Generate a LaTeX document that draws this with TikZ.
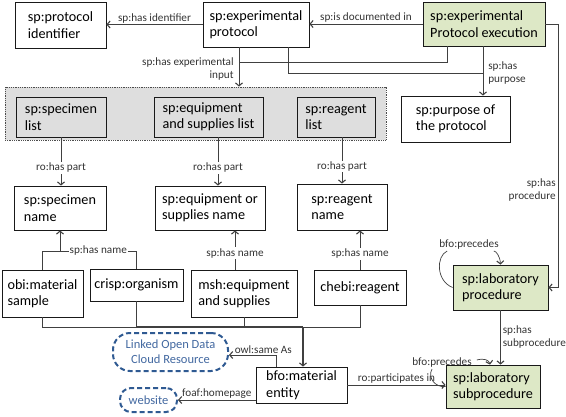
\documentclass[tikz,border=0pt]{standalone}
\usepackage{fontspec}
\setmainfont{Carlito}
\usetikzlibrary{arrows.meta}
\definecolor{procgreen}{RGB}{221,232,198}
\definecolor{lodblue}{RGB}{47,90,146}
\definecolor{lodtext}{RGB}{66,104,160}

\begin{document}
\begin{tikzpicture}[x=1pt,y=-1pt,
  cls/.style={draw=black!90,line width=0.8pt,align=left,inner sep=0pt,
    font=\fontsize{14.2}{16.5}\selectfont},
  proc/.style={cls,fill=procgreen},
  rel/.style={font=\fontsize{11.2}{13}\selectfont,text=black!80,inner sep=1pt},
  lnk/.style={draw=black!75,line width=0.7pt},
  arr/.style={lnk,-{Straight Barb[length=3pt,width=7pt,line width=1.1pt]}},
  ext/.style={draw=lodblue,line width=2pt,dash pattern=on 5pt off 3pt,text=lodtext,
    font=\fontsize{12.5}{15}\selectfont,align=center,inner sep=0pt}]
\useasboundingbox (0,0) rectangle (566,416);

% classes
\node[cls,minimum width=91pt,minimum height=46pt] (ident) at (60.5,25) {sp:protocol\\identifier};
\node[cls,minimum width=106pt,minimum height=45pt] (proto) at (256,24.5) {sp:experimental\\protocol};
\node[proc,minimum width=122pt,minimum height=44pt] (exec) at (484,24) {sp:experimental\\Protocol execution};
\node[draw=black!70,densely dotted,line width=0.8pt,fill=black!13,minimum width=381pt,minimum height=53pt] (lists) at (195.5,113.5) {};
\node[cls,minimum width=90pt,minimum height=40pt] (speclist) at (61,117) {sp:specimen\\list};
\node[cls,minimum width=109pt,minimum height=40pt] (equiplist) at (208.5,117) {sp:equipment\\and supplies list};
\node[cls,minimum width=78pt,minimum height=40pt] (reaglist) at (336,117) {sp:reagent\\list};
\node[cls,minimum width=109pt,minimum height=46pt] (purpose) at (455.5,119) {sp:purpose of\\the protocol};
\node[cls,minimum width=92pt,minimum height=44pt] (specname) at (60,208) {sp:specimen\\name};
\node[cls,minimum width=110pt,minimum height=44pt] (equipname) at (210,208) {sp:equipment or\\supplies name};
\node[cls,minimum width=90pt,minimum height=46pt] (reagname) at (342,207) {sp:reagent\\name};
\node[cls,minimum width=81pt,minimum height=47pt] (obi) at (42.5,293.5) {obi:material\\sample};
\node[cls,minimum width=93pt,minimum height=32pt] (crisp) at (136.5,285) {crisp:organism};
\node[cls,minimum width=106pt,minimum height=47pt] (msh) at (244,293.5) {msh:equipment\\and supplies};
\node[cls,minimum width=92pt,minimum height=35pt] (chebi) at (360,287.5) {chebi:reagent};
\node[cls,minimum width=91pt,minimum height=36pt] (bfo) at (301.5,385) {bfo:material\\entity};
\node[proc,minimum width=95pt,minimum height=45pt] (labproc) at (500.5,287.5) {sp:laboratory\\procedure};
\node[proc,minimum width=94pt,minimum height=43pt] (subproc) at (493,386.5) {sp:laboratory\\subprocedure};
\node[ext,rounded corners=17pt,minimum width=115pt,minimum height=38pt] (lod) at (170.5,352) {Linked Open Data\\Cloud Resource};
\node[ext,rounded corners=11pt,minimum width=57pt,minimum height=24pt] (web) at (148.5,400) {website};

% top row
\draw[arr] (exec.west) -- node[rel,above] {sp:is documented in} (proto.east |- exec.west);
\draw[arr] (proto.west) -- node[rel,above] {sp:has identifier} (ident.east |- proto.west);

% input and purpose
\coordinate (inp) at (239,62);
\coordinate (exin) at (447,62);
\coordinate (pj) at (288,73);
\coordinate (pur) at (483,73);
\draw[lnk] (exec.south -| exin) -- (exin) -- (inp);
\draw[arr] (proto.south -| inp) -- node[rel,left=4pt,align=right,pos=0.55] {sp:has experimental\\input} (inp |- lists.north);
\draw[lnk] (proto.south -| pj) -- (pj) -- (pur);
\draw[arr] (exec.south -| pur) -- node[rel,right=4pt,align=left,pos=0.55] {sp:has\\purpose} (pur |- purpose.north);

% procedure
\coordinate (pcr) at (558,24);
\draw[arr] (exec.east) -- (exec.east -| pcr) -- node[rel,left=1pt,align=right,pos=0.63] {sp:has\\procedure} (pcr |- labproc.east) -- (labproc.east);

% has part
\coordinate (eqp) at (218,0);
\draw[arr] (speclist.south) -- node[rel,fill=white,pos=0.63] {ro:has part} (speclist.south |- specname.north);
\draw[arr] (equiplist.south -| eqp) -- node[rel,fill=white,pos=0.63] {ro:has part} (equipname.north -| eqp);
\draw[arr] (reaglist.south -| reagname.north) -- node[rel,fill=white,pos=0.63] {ro:has part} (reagname.north);

% has name
\coordinate (snj) at (60,251);
\coordinate (eqn) at (235,0);
\draw[lnk] (obi.north) |- (snj);
\draw[arr] (crisp.north) |- node[rel,fill=white,pos=0.75] {sp:has name} (snj) -- (specname.south);
\draw[arr] (msh.north -| eqn) -- node[rel,fill=white,pos=0.42] {sp:has name} (equipname.south -| eqn);
\draw[arr] (chebi.north) -- node[rel,fill=white,pos=0.4] {sp:has name} (chebi.north |- reagname.south);

% into material entity
\coordinate (mj) at (303,327);
\draw[lnk] (obi.south) |- (crisp.south |- mj);
\draw[lnk] (crisp.south) -- (crisp.south |- mj);
\draw[lnk] (msh.south) -- (msh.south |- mj);
\draw[lnk] (chebi.south) |- (mj);
\draw[lnk,line width=1.3pt] (crisp.south |- mj) -- (mj);
\draw[arr,line width=1.5pt] (mj) -- (mj |- bfo.north);

% material entity links
\coordinate (saj) at (276,355);
\draw[arr] (bfo.north -| saj) -- (saj) -- node[rel,above,pos=0.27] {owl:same As} (lod.east |- saj);
\draw[arr] (bfo.west |- web.east) -- node[rel,above] {foaf:homepage} (web.east);
\draw[arr] (bfo.east) -- node[rel,above] {ro:participates in} (bfo.east -| subproc.west);

% procedures
\draw[arr] (labproc.south) -- node[rel,right=2pt,inner sep=0pt,align=left] {sp:has\\subprocedure} (labproc.south |- subproc.north);
\node[rel] (prec1) at (469,245) {bfo:precedes};
\draw[lnk] (labproc.west) .. controls (436,281) and (436,256) .. ([xshift=9pt]prec1.south west);
\draw[arr] ([xshift=-6pt]prec1.south east) .. controls (496,251) and (500,256) .. (labproc.north);
\node[rel] (prec2) at (442,363) {bfo:precedes};
\draw[lnk] ([xshift=-10pt]prec2.south) .. controls (427,378) and (436,388) .. (subproc.west);
\draw[arr] ([xshift=4pt,yshift=3pt]prec2.east) .. controls (484,358) and (489,360) .. ([xshift=-3pt]subproc.north);
\end{tikzpicture}
\end{document}
